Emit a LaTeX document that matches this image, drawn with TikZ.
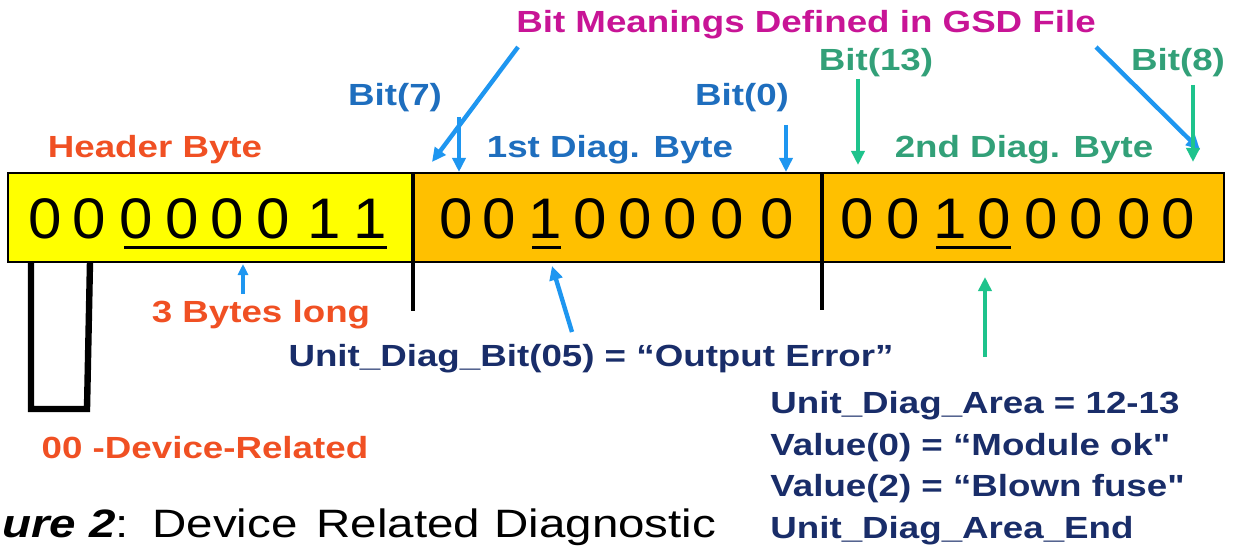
\documentclass[tikz,border=0pt]{standalone}
\usepackage{fontspec}
\setmainfont{Liberation Sans}[FakeStretch=1.2]
\newfontfamily\digitfont{Liberation Sans}[FakeStretch=1.05]
\newcommand{\straightdq}{\XeTeXglyph\XeTeXcharglyph"22\relax}
\usetikzlibrary{arrows.meta}
\definecolor{hdr}{RGB}{240,80,35}
\definecolor{bluetxt}{RGB}{30,110,190}
\definecolor{bluearr}{RGB}{30,150,240}
\definecolor{magen}{RGB}{200,20,150}
\definecolor{greentxt}{RGB}{50,160,120}
\definecolor{greenarr}{RGB}{30,195,140}
\definecolor{navy}{RGB}{25,45,105}
\definecolor{byteyellow}{RGB}{255,255,0}
\definecolor{byteorange}{RGB}{255,192,0}
\begin{document}
\begin{tikzpicture}[x=0.5pt,y=-0.5pt,
  lab/.style={inner sep=0pt, anchor=base, font=\fontsize{15.3}{18}\selectfont\bfseries},
  dig/.style={inner sep=0pt, anchor=base, font=\digitfont\fontsize{28.6}{30}\selectfont},
  captxt/.style={inner sep=0pt, anchor=base west, font=\fontsize{19.8}{22}\selectfont},
  arr/.style={line width=2.2pt, -{Triangle[length=7pt,width=6.5pt]}},
  thinarr/.style={line width=1.6pt, -{Triangle[length=5.5pt,width=5pt]}},
  bytebox/.style={draw=black, line width=1pt},
  sep/.style={draw=black, line width=2.4pt},
  uline/.style={draw=black, line width=1.5pt}]
\useasboundingbox (0,0) rectangle (1248,556);

% byte boxes
\path[bytebox, fill=byteyellow] (8,173) rectangle (413,262);
\path[bytebox, fill=byteorange] (413,173) rectangle (822,262);
\path[bytebox, fill=byteorange] (822,173) rectangle (1224,262);
\coordinate (s1t) at (413,173); \coordinate (s1b) at (413,311);
\coordinate (s2t) at (822,173); \coordinate (s2b) at (822,310);
\draw[sep] (s1t) -- (s1b);
\draw[sep] (s2t) -- (s2b);

% digits
\foreach \x/\d [count=\i] in {45.5/0,89/0,136/0,182/0,227/0,273/0,324/1,370/1}
  \node[dig] (h\i) at (\x,238) {\d};
\foreach \x/\d [count=\i] in {456/0,499/0,545/1,590/0,635/0,680/0,727/0,777/0}
  \node[dig] (a\i) at (\x,238) {\d};
\foreach \x/\d [count=\i] in {857/0,903/0,950/1,994/0,1041/0,1086/0,1134/0,1178/0}
  \node[dig] (b\i) at (\x,238) {\d};
\draw[uline] (124,247) -- (387,247);
\draw[uline] (532,247) -- (561,247);
\draw[uline] (936,247) -- (1011,247);

% bracket
\coordinate (k1) at (31,262); \coordinate (k2) at (31,409);
\coordinate (k3) at (87,409); \coordinate (k4) at (90,262);
\draw[line width=3.2pt, line join=miter] (k1) -- (k2) -- (k3) -- (k4);

% labels
\node[lab, text=magen] (gsd) at (806,33) {Bit Meanings Defined in GSD File};
\node[lab, text=bluetxt] (b7) at (395,105) {Bit(7)};
\node[lab, text=bluetxt] (b0) at (742,105) {Bit(0)};
\node[lab, text=greentxt] (b13) at (876,71) {Bit(13)};
\node[lab, text=greentxt] (b8) at (1178,71) {Bit(8)};
\node[lab, text=hdr] (hb) at (155,157) {Header Byte};
\node[lab, text=bluetxt] (d1) at (610,157) {1st Diag. Byte};
\node[lab, text=greentxt] (d2) at (1024,157) {2nd Diag. Byte};
\node[lab, text=hdr] (len) at (261,322) {3 Bytes long};
\node[lab, text=navy] (ub) at (591,366) {Unit\_Diag\_Bit(05) = “Output Error”};
\node[lab, text=hdr] (dev) at (205,458) {00 -Device-Related};
\node[lab, text=navy, anchor=base west] (ua1) at (770,413) {Unit\_Diag\_Area = 12-13};
\node[lab, text=navy, anchor=base west] (ua2) at (770,455) {Value(0) = “Module ok\straightdq};
\node[lab, text=navy, anchor=base west] (ua3) at (770,496) {Value(2) = “Blown fuse\straightdq};
\node[lab, text=navy, anchor=base west] (ua4) at (770,538) {Unit\_Diag\_Area\_End};

% caption
\node[captxt] (c1) at (2,537) {\textbf{\textit{ure 2}}:};
\node[captxt] (c2) at (152,537) {Device};
\node[captxt] (c3) at (316,537) {Related};
\node[captxt] (c4) at (494,537) {Diagnostic};

% arrows
\coordinate (g1s) at (518,47); \coordinate (g1e) at (432,162);
\coordinate (g2s) at (1096,47); \coordinate (g2e) at (1200,150);
\draw[arr, bluearr] (g1s) -- (g1e);
\draw[arr, bluearr] (g2s) -- (g2e);
\coordinate (b7s) at (459,117); \coordinate (b7e) at (459,172);
\draw[arr, bluearr] (b7s) -- (b7e);
\coordinate (b0s) at (786,125); \coordinate (b0e) at (786,172);
\draw[arr, bluearr] (b0s) -- (b0e);
\coordinate (b13s) at (858,79); \coordinate (b13e) at (858,165);
\draw[arr, greenarr] (b13s) -- (b13e);
\coordinate (b8s) at (1193,85); \coordinate (b8e) at (1193,162);
\draw[arr, greenarr] (b8s) -- (b8e);
\coordinate (lens) at (243,294); \coordinate (lene) at (243,264);
\draw[thinarr, bluearr] (lens) -- (lene);
\coordinate (ubs) at (572,332); \coordinate (ube) at (552,266);
\draw[arr, bluearr] (ubs) -- (ube);
\coordinate (uas) at (985,357); \coordinate (uae) at (985,277);
\draw[arr, greenarr] (uas) -- (uae);
\end{tikzpicture}
\end{document}
